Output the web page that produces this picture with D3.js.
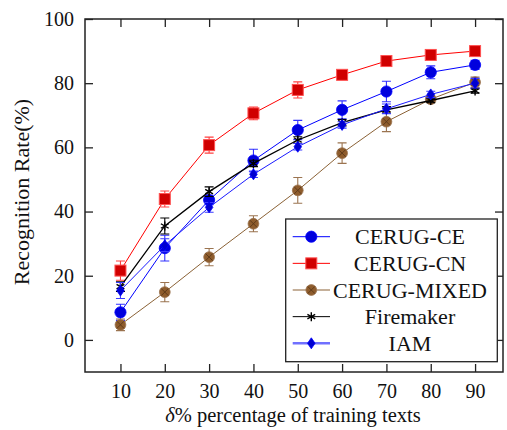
<!DOCTYPE html>
<html><head><meta charset="utf-8">
<script src="https://d3js.org/d3.v7.min.js"></script>
</head><body style="margin:0"><svg id="c" width="507" height="430" font-family="Liberation Serif"></svg>
<script>
const xValues = [10,20,30,40,50,60,70,80,90];
const xTicks = [10,20,30,40,50,60,70,80,90];
const yTicks = [0,20,40,60,80,100];
const ceVals = [8.6,28.6,43.6,55.9,65.4,71.7,77.4,83.4,85.7];
const ceErr  = [2.5,4,1.5,3.5,3,2.8,3.2,2,1.4];
const cnVals = [21.6,43.9,60.7,70.6,77.9,82.6,86.9,88.8,90.0];
const cnErr  = [3,2.5,2.5,2,2.5,1,1,1,1];
const mixVals = [4.7,14.9,25.8,36.2,46.6,58.2,68.0,75.0,80.3];
const mixErr  = [1.8,3,2.7,2.5,4,3.2,3.1,1,1.6];
const fireVals = [16.6,35.5,46.2,55.0,62.3,67.7,71.7,74.6,77.6];
const fireErr  = [1.5,2.5,1.5,1,1,1,1,0.7,0.7];
const iamVals = [15.4,29.5,41.3,51.6,60.2,67.0,72.0,76.5,80.0];
const iamErr  = [2.5,2,1.5,1,1,1,1.5,1,1.5];
const seriesNames = ["CERUG-CE","CERUG-CN","CERUG-MIXED","Firemaker","IAM"];

const svg = d3.select("#c");
const L=85,R=503,T=19,B=372;
const x = d3.scaleLinear().domain([2,96.3]).range([L,R]);
const y = d3.scaleLinear().domain([-10,100]).range([B,T]);
const FONT = "Liberation Serif";

const series = [
 {name:seriesNames[0], vals:ceVals, err:ceErr, line:"#0000ff", lw:1, errc:"#3030ff", marker:"circle", fill:"#0000dd", stroke:"#0000ff", legLine:"#0000ff", legW:1},
 {name:seriesNames[1], vals:cnVals, err:cnErr, line:"#ff0000", lw:1, errc:"#ff4040", marker:"square", fill:"#d00000", stroke:"#ff5050", legLine:"#ff0000", legW:1},
 {name:seriesNames[2], vals:mixVals, err:mixErr, line:"#8b6236", lw:1, errc:"#9b7450", marker:"xcircle", fill:"#8e5c2c", stroke:"#9b7450", legLine:"#8b6236", legW:1.2},
 {name:seriesNames[3], vals:fireVals, err:fireErr, line:"#000000", lw:1.3, errc:"#000000", marker:"star", fill:"#000", stroke:"#000", legLine:"#000", legW:1},
 {name:seriesNames[4], vals:iamVals, err:iamErr, line:"#1a1aff", lw:1, errc:"#3a3aff", marker:"diamond", fill:"#0000d0", stroke:"#0000ff", legLine:"#7070ff", legW:2.5}
];

function drawMarker(g, type, cx, cy, s){
  if(type==="circle"){
    g.append("circle").attr("cx",cx).attr("cy",cy).attr("r",5.6).attr("fill",s.fill).attr("stroke",s.stroke).attr("stroke-width",0.8);
  } else if(type==="square"){
    g.append("rect").attr("x",cx-5.5).attr("y",cy-5.5).attr("width",11).attr("height",11).attr("fill",s.fill).attr("stroke",s.stroke).attr("stroke-width",1);
  } else if(type==="xcircle"){
    g.append("circle").attr("cx",cx).attr("cy",cy).attr("r",5.4).attr("fill",s.fill).attr("stroke",s.stroke).attr("stroke-width",0.8);
    const d=3.6;
    g.append("path").attr("d",`M${cx-d},${cy-d}L${cx+d},${cy+d}M${cx-d},${cy+d}L${cx+d},${cy-d}`).attr("stroke","#5a3818").attr("stroke-width",0.9);
  } else if(type==="star"){
    const r=4.5; let p="";
    for(let k=0;k<3;k++){const a=Math.PI/2+k*Math.PI/3; p+=`M${cx+r*Math.cos(a)},${cy-r*Math.sin(a)}L${cx-r*Math.cos(a)},${cy+r*Math.sin(a)}`;}
    g.append("path").attr("d",p).attr("stroke","#000").attr("stroke-width",1.4);
  } else if(type==="diamond"){
    g.append("path").attr("d",`M${cx},${cy-5.5}L${cx+3.8},${cy}L${cx},${cy+5.5}L${cx-3.8},${cy}Z`).attr("fill",s.fill).attr("stroke",s.stroke).attr("stroke-width",0.8);
  }
}

svg.append("rect").attr("x",L).attr("y",T).attr("width",R-L).attr("height",B-T).attr("fill","none").attr("stroke","#222").attr("stroke-width",1.5);

const tk=8;
const xb = svg.append("g").attr("transform",`translate(0,${B})`).call(d3.axisBottom(x).tickValues(xTicks).tickSize(-tk).tickPadding(12));
const xt = svg.append("g").attr("transform",`translate(0,${T})`).call(d3.axisTop(x).tickValues(xTicks).tickSize(-tk).tickFormat(""));
const yl = svg.append("g").attr("transform",`translate(${L},0)`).call(d3.axisLeft(y).tickValues(yTicks).tickSize(-tk).tickPadding(11));
const yr = svg.append("g").attr("transform",`translate(${R},0)`).call(d3.axisRight(y).tickValues(yTicks).tickSize(-tk).tickFormat(""));
[xb,xt,yl,yr].forEach(g=>{g.attr("font-family",FONT).attr("font-size",20); g.select(".domain").remove(); g.selectAll(".tick line").attr("stroke","#222").attr("stroke-width",1.3);});
xb.selectAll("text").attr("font-family",FONT).attr("fill","#111");
yl.selectAll("text").attr("font-family",FONT).attr("fill","#111");

series.forEach(s=>{
  const g = svg.append("g");
  const line = d3.line().x((d,i)=>x(xValues[i])).y(d=>y(d));
  g.append("path").datum(s.vals).attr("d",line).attr("fill","none").attr("stroke",s.line).attr("stroke-width",s.lw);
  s.vals.forEach((v,i)=>{
    const cx=x(xValues[i]), y1=y(v+s.err[i]), y2=y(v-s.err[i]);
    g.append("path").attr("d",`M${cx},${y1}L${cx},${y2}M${cx-4.5},${y1}L${cx+4.5},${y1}M${cx-4.5},${y2}L${cx+4.5},${y2}`).attr("stroke",s.errc).attr("stroke-width",1.1).attr("fill","none");
  });
  s.vals.forEach((v,i)=>drawMarker(g,s.marker,x(xValues[i]),y(v),s));
});

const lg = svg.append("g").attr("font-family",FONT);
lg.append("rect").attr("x",285.7).attr("y",219).attr("width",211.6).attr("height",142.7).attr("fill","#fff").attr("stroke","#222").attr("stroke-width",1.3);
series.forEach((s,i)=>{
  const yy = 236.7 + i*26.65;
  lg.append("line").attr("x1",292.7).attr("x2",330).attr("y1",yy).attr("y2",yy).attr("stroke",s.legLine).attr("stroke-width",s.legW);
  drawMarker(lg,s.marker,311.3,yy,s);
  lg.append("text").attr("x",410).attr("y",yy+7.5).attr("text-anchor","middle").attr("font-family",FONT).attr("font-size",22).attr("fill","#111").text(s.name);
});

const xtitle = svg.append("text").attr("x",293).attr("y",422).attr("text-anchor","middle").attr("font-family",FONT).attr("font-size",20.5).attr("fill","#111");
xtitle.append("tspan").attr("font-style","italic").text("δ");
xtitle.append("tspan").text("% percentage of training texts");
svg.append("text").attr("transform","translate(29,192) rotate(-90)").attr("text-anchor","middle").attr("font-family",FONT).attr("font-size",22).attr("fill","#111").text("Recognition Rate(%)");
</script></body></html>
